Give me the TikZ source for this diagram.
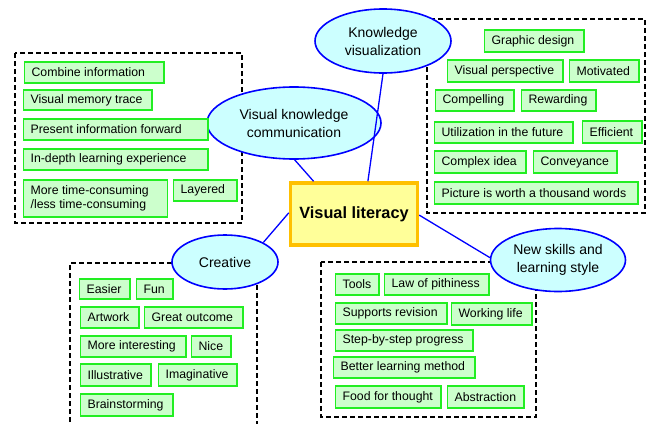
\documentclass[tikz,border=0pt]{standalone}
\usepackage{fontspec}
\setmainfont{Liberation Sans}
\usetikzlibrary{shapes.geometric}
\definecolor{gline}{HTML}{22EE22}
\definecolor{gfill}{HTML}{CCFFCC}
\definecolor{efill}{HTML}{CCFFFF}
\definecolor{eline}{HTML}{0000FF}
\definecolor{yfill}{HTML}{FFFF99}
\definecolor{yline}{HTML}{FFC000}
\tikzset{
  gbox/.style={draw=gline, fill=gfill, line width=1.6pt, inner ysep=1pt, inner xsep=7pt, rectangle,
    font=\fontsize{12.3}{14.5}\selectfont},
  ell/.style={ellipse, draw=eline, fill=efill, line width=1.6pt, inner sep=0pt, align=center,
    font=\fontsize{14}{18}\selectfont},
  dbox/.style={draw=black, line width=1.4pt, dash pattern=on 5pt off 3pt},
  conn/.style={draw=eline, line width=1.3pt},
  litbox/.style={draw=yline, fill=yfill, line width=3.5pt, inner sep=0pt,
    font=\fontsize{16.3}{18}\selectfont\bfseries}
}
\newcommand\gbx[6]{%
  \pgfmathsetmacro\gbw{#4-#2-1.6-14}%
  \pgfmathsetmacro\gbh{#5-#3-1.6}%
  \node[gbox, minimum height=\gbh pt, anchor=west] (#1) at ({#2+0.8},{(#3+#5)/2}) {\makebox[\gbw pt][l]{#6}};}
\begin{document}
\begin{tikzpicture}[x=1pt,y=-1pt]
\useasboundingbox (0,0) rectangle (652,423);
\fill[white] (0,0) rectangle (652,423);

% dashed group boxes
\draw[dbox] (15,53) rectangle (242,223);
\draw[dbox] (427,19) rectangle (645,213);
\draw[dbox] (70,430) -- (70,263) -- (257,263) -- (257,430);
\draw[dbox] (321,262) rectangle (536,417);

% central node and categories
\node[litbox, minimum width=127pt, minimum height=62pt] (lit) at (354,214) {Visual literacy};
\node[ell, minimum width=174pt, minimum height=72pt] (vkc) at (294,123) {Visual knowledge\\communication};
\node[ell, minimum width=136pt, minimum height=64pt] (kv) at (383,41) {Knowledge\\visualization};
\node[ell, minimum width=106pt, minimum height=54pt] (cre) at (225,262) {Creative};
\node[ell, minimum width=135pt, minimum height=63pt] (ns) at (558,260) {New skills and\\learning style};

% left group
\gbx{c1}{23}{61}{164}{84}{Combine information}
\gbx{c2}{22}{89}{152}{111}{Visual memory trace}
\gbx{c3}{22}{118}{208}{141}{Present information forward}
\gbx{c4}{22}{148}{208}{171}{In-depth learning experience}
\node[gbox, minimum height=37pt, anchor=west] (c5) at (22.8,198.5)
  {\parbox{130pt}{\raggedright More time-consuming\\/less time-consuming}};
\gbx{c6}{172}{179}{237}{202}{Layered}

% knowledge visualization group
\gbx{k1}{483}{29}{584}{53}{Graphic design}
\gbx{k2}{446}{59}{563}{83}{Visual perspective}
\gbx{k3}{568}{59}{639}{83}{Motivated}
\gbx{k4}{434}{89}{514}{112}{Compelling}
\gbx{k5}{520}{89}{596}{112}{Rewarding}
\gbx{k6}{433}{121}{573}{144}{Utilization in the future}
\gbx{k7}{581}{120}{642}{144}{Efficient}
\gbx{k8}{433}{150}{526}{174}{Complex idea}
\gbx{k9}{532}{150}{617}{174}{Conveyance}
\gbx{k10}{433}{181}{638}{205}{Picture is worth a thousand words}

% creative group
\gbx{r1}{78}{278}{130}{300}{Easier}
\gbx{r2}{135}{278}{173}{300}{Fun}
\gbx{r3}{79}{306}{139}{329}{Artwork}
\gbx{r4}{143}{306}{243}{329}{Great outcome}
\gbx{r5}{79}{335}{186}{358}{More interesting}
\gbx{r6}{190}{335}{231}{358}{Nice}
\gbx{r7}{79}{363}{151}{387}{Illustrative}
\gbx{r8}{157}{363}{237}{387}{Imaginative}
\gbx{r9}{79}{393}{173}{417}{Brainstorming}

% new skills group
\gbx{n1}{334}{273}{379}{296}{Tools}
\gbx{n2}{383}{273}{489}{296}{Law of pithiness}
\gbx{n3}{334}{302}{447}{325}{Supports revision}
\gbx{n4}{450}{302}{532}{326}{Working life}
\gbx{n5}{334}{329}{473}{352}{Step-by-step progress}
\gbx{n6}{332}{356}{475}{379}{Better learning method}
\gbx{n7}{334}{385}{441}{409}{Food for thought}
\gbx{n8}{446}{385}{524}{409}{Abstraction}

% connectors
\draw[conn] (lit.141) -- (vkc.271);
\draw[conn] (lit.67) -- (kv.270);
\draw[conn] (lit.179) -- (cre.27);
\draw[conn] (lit.359) -- (ns.178);
\end{tikzpicture}
\end{document}
